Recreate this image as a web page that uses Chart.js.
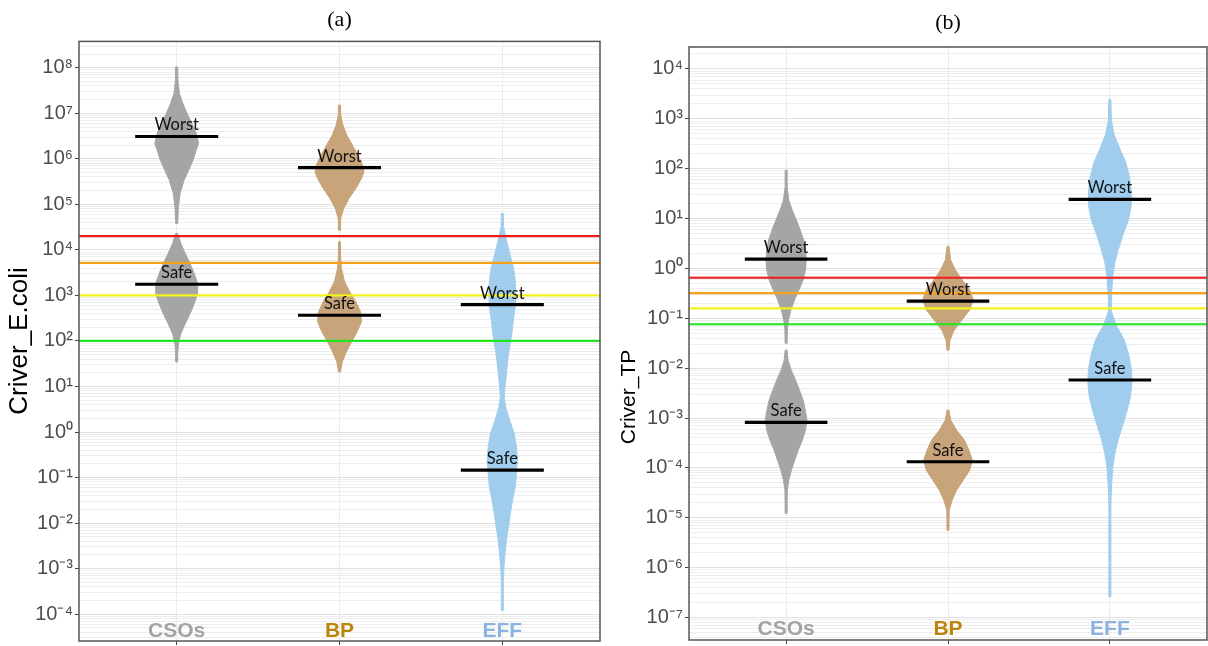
<!DOCTYPE html>
<html>
<head>
<meta charset="utf-8">
<script src="https://cdn.jsdelivr.net/npm/chart.js@4.4.1/dist/chart.umd.min.js"></script>
<style>
  body { margin: 0; background: #fff; }
  #wrap { position: relative; width: 1208px; height: 646px; }
  #chartA { position: absolute; left: 0; top: 0; }
  #chartB { position: absolute; left: 604px; top: 0; }
</style>
</head>
<body>
<div id="wrap">
  <canvas id="chartA" width="604" height="646"></canvas>
  <canvas id="chartB" width="604" height="646"></canvas>
</div>
<script>
const categories = ['CSOs', 'BP', 'EFF'];
const categoryColors = ['#a3a3a3', '#b8860b', '#8cb2e0'];
const swarmColors = ['#a5a5a5', '#c8a47a', '#a0cdee'];
const limitColors = ['#ee1c1c', '#f5a11c', '#f2f21e', '#22e522'];

// swarm outlines: [log10(value), relative density]
const ecoliCsoWorst = [[8.02,.01],[7.73,.05],[7.44,.11],[7.22,.25],[7.0,.42],[6.78,.62],[6.56,.80],[6.34,.90],[6.19,.80],[5.97,.67],[5.75,.49],[5.53,.30],[5.24,.14],[4.95,.07],[4.58,.03]];
const ecoliCsoSafe = [[4.36,.03],[4.14,.17],[3.92,.35],[3.70,.55],[3.48,.72],[3.26,.86],[3.04,.86],[2.82,.72],[2.60,.55],[2.38,.35],[2.16,.17],[1.94,.07],[1.72,.03],[1.54,.01]];
const ecoliBpWorst = [[7.18,.01],[6.96,.05],[6.74,.14],[6.52,.30],[6.30,.53],[6.08,.76],[5.86,.95],[5.71,1.0],[5.57,.90],[5.35,.67],[5.13,.39],[4.91,.17],[4.69,.05],[4.43,.03]];
const ecoliBpSafe = [[4.18,.01],[3.88,.04],[3.59,.08],[3.30,.21],[3.08,.42],[2.86,.67],[2.64,.86],[2.42,.90],[2.20,.72],[1.98,.49],[1.76,.28],[1.54,.11],[1.32,.04]];
const ecoliEffWorst = [[4.80,.01],[4.51,.05],[4.21,.17],[3.92,.30],[3.63,.45],[3.33,.53],[3.04,.55],[2.75,.53],[2.45,.45],[2.16,.39],[1.87,.30],[1.58,.22],[1.28,.17],[0.99,.11],[0.77,.08]];
const ecoliEffSafe = [[0.77,.08],[0.55,.14],[0.26,.30],[-0.04,.49],[-0.33,.58],[-0.62,.62],[-0.91,.58],[-1.21,.53],[-1.50,.42],[-1.79,.33],[-2.09,.25],[-2.38,.17],[-2.67,.11],[-2.97,.07],[-3.26,.04],[-3.55,.03],[-3.92,.01]];
const ecoliMedWorst = [3.1e6, 6.4e5, 630];
const ecoliMedSafe = [1760, 367, 0.146];
const ecoliLimits = [20000, 5200, 1000, 100];
const ecoliExponents = [-4, -3, -2, -1, 0, 1, 2, 3, 4, 5, 6, 7, 8];

const tpCsoWorst = [[1.97,.01],[1.64,.04],[1.37,.11],[1.17,.25],[0.97,.42],[0.77,.58],[0.57,.72],[0.37,.80],[0.17,.83],[-0.03,.80],[-0.23,.70],[-0.43,.53],[-0.63,.35],[-0.83,.20],[-1.03,.10],[-1.23,.05],[-1.50,.02]];
const tpCsoSafe = [[-1.64,.01],[-1.84,.08],[-2.04,.21],[-2.24,.39],[-2.44,.55],[-2.64,.70],[-2.84,.79],[-3.04,.86],[-3.24,.80],[-3.44,.67],[-3.64,.50],[-3.84,.36],[-4.04,.22],[-4.24,.11],[-4.45,.05],[-4.71,.03],[-4.91,.01]];
const tpBpWorst = [[0.44,.01],[0.17,.11],[-0.03,.30],[-0.23,.58],[-0.43,.90],[-0.63,1.04],[-0.83,.90],[-1.03,.58],[-1.24,.25],[-1.44,.08],[-1.64,.03]];
const tpBpSafe = [[-2.84,.01],[-3.04,.11],[-3.24,.35],[-3.44,.67],[-3.64,.86],[-3.84,1.0],[-4.04,.90],[-4.24,.63],[-4.45,.35],[-4.65,.17],[-4.85,.05],[-5.11,.02],[-5.25,.01]];
const tpEffWorst = [[3.39,.01],[2.97,.06],[2.68,.18],[2.40,.41],[2.12,.66],[1.83,.81],[1.55,.88],[1.26,.88],[0.98,.77],[0.70,.56],[0.41,.37],[0.13,.21],[-0.16,.12],[-0.44,.08],[-0.65,.06]];
const tpEffSafe = [[-0.65,.06],[-0.86,.06],[-1.15,.27],[-1.43,.59],[-1.72,.77],[-2.00,.88],[-2.28,.91],[-2.57,.85],[-2.85,.71],[-3.14,.53],[-3.42,.35],[-3.70,.21],[-3.99,.12],[-4.27,.08],[-4.56,.05],[-4.84,.03],[-5.55,.02],[-6.58,.01]];
const tpMedWorst = [1.54, 0.222, 24.3];
const tpMedSafe = [8.2e-4, 1.33e-4, 5.8e-3];
const tpLimits = [0.65, 0.32, 0.158, 0.076];
const tpExponents = [-7, -6, -5, -4, -3, -2, -1, 0, 1, 2, 3, 4];

const SUP = { '-': '\u207B', '0': '\u2070', '1': '\u00B9', '2': '\u00B2', '3': '\u00B3', '4': '\u2074', '5': '\u2075', '6': '\u2076', '7': '\u2077', '8': '\u2078', '9': '\u2079' };
const toSup = n => String(n).split('').map(c => SUP[c]).join('');
const isDecade = v => Math.abs(Math.log10(v) - Math.round(Math.log10(v))) < 1e-6;
const HALF_MAX = 0.15;   // widest swarm half width, in category units
const SEG_HALF = 0.255;  // median bar half length

function logTicks(exps, min, max) {
  const out = [];
  for (let e = exps[0] - 1; e <= exps[exps.length - 1]; e++) {
    for (let m = 1; m <= 9; m++) {
      const v = Number((m * Math.pow(10, e)).toPrecision(6));
      if (v >= min && v <= max) out.push({ value: v });
    }
  }
  return out;
}

function panelPlugin(p) {
  return {
    id: 'panel' + p.tag,
    beforeDatasetsDraw(chart) {
      const { ctx, chartArea: a, scales: { x, y } } = chart;
      ctx.save();
      ctx.beginPath();
      ctx.rect(a.left, a.top, a.right - a.left, a.bottom - a.top);
      ctx.clip();
      p.swarms.forEach(s => {
        const cx = x.getPixelForValue(s.cat);
        const pts = s.profile.map(([lv, d]) => [
          y.getPixelForValue(Math.pow(10, lv)),
          Math.max(x.getPixelForValue(s.cat + d * HALF_MAX) - cx, 1)
        ]);
        ctx.fillStyle = swarmColors[s.cat - 1];
        ctx.strokeStyle = swarmColors[s.cat - 1];
        ctx.lineWidth = 1;
        ctx.beginPath();
        pts.forEach(([py, w], i) => i ? ctx.lineTo(cx + w, py) : ctx.moveTo(cx + w, py));
        for (let i = pts.length - 1; i >= 0; i--) ctx.lineTo(cx - pts[i][1], pts[i][0]);
        ctx.closePath();
        ctx.fill();
        ctx.stroke();
      });
      ctx.restore();
    },
    afterDatasetsDraw(chart) {
      const { ctx, chartArea: a, scales: { x, y } } = chart;
      ctx.save();
      // Worst / Safe labels
      ctx.font = '16.5px Lato, "Open Sans", sans-serif';
      ctx.fillStyle = '#111';
      ctx.textAlign = 'center';
      ctx.textBaseline = 'alphabetic';
      p.medWorst.forEach((m, i) => ctx.fillText('Worst', x.getPixelForValue(i + 1), y.getPixelForValue(m) - 6));
      p.medSafe.forEach((m, i) => ctx.fillText('Safe', x.getPixelForValue(i + 1), y.getPixelForValue(m) - 6));
      // panel border
      ctx.strokeStyle = '#555';
      ctx.lineWidth = 1.5;
      ctx.strokeRect(a.left, a.top, a.right - a.left, a.bottom - a.top);
      // y axis title
      ctx.translate(p.yTitle.x, p.yTitle.y);
      ctx.rotate(-Math.PI / 2);
      ctx.font = p.yTitle.size + 'px "Liberation Sans", Arial, sans-serif';
      ctx.fillStyle = '#000';
      ctx.textBaseline = 'middle';
      ctx.fillText(p.yTitle.text, 0, 0);
      ctx.restore();
    }
  };
}

function makePanel(canvasId, p) {
  const datasets = [];
  const seg = (i, m) => ({
    data: [{ x: i + 1 - SEG_HALF, y: m }, { x: i + 1 + SEG_HALF, y: m }],
    borderColor: '#000', borderWidth: 3.2
  });
  p.medWorst.forEach((m, i) => datasets.push(seg(i, m)));
  p.medSafe.forEach((m, i) => datasets.push(seg(i, m)));
  p.limits.forEach((v, i) => datasets.push({
    data: [{ x: 0.4, y: v }, { x: 3.6, y: v }],
    borderColor: limitColors[i], borderWidth: 2.2
  }));
  datasets.forEach(d => Object.assign(d, { showLine: true, pointRadius: 0, fill: false }));

  new Chart(document.getElementById(canvasId), {
    type: 'scatter',
    data: { datasets },
    plugins: [panelPlugin(p)],
    options: {
      responsive: false,
      animation: false,
      events: [],
      layout: { padding: { left: 0, right: p.padRight, top: 0, bottom: 0 } },
      plugins: {
        legend: { display: false },
        tooltip: { enabled: false },
        title: {
          display: true, text: p.title, fullSize: false, color: '#000',
          font: { family: '"Liberation Serif", "Times New Roman", serif', size: 22, weight: 'normal' },
          padding: p.titlePad
        }
      },
      scales: {
        x: {
          type: 'linear', min: 0.4, max: 3.6,
          afterBuildTicks: s => { s.ticks = [1, 2, 3].map(v => ({ value: v })); },
          afterFit: s => { s.height = p.xHeight; s.paddingLeft = 0; s.paddingRight = 0; },
          border: { display: false },
          grid: { color: '#ebebeb', tickColor: '#444', tickLength: 4 },
          ticks: {
            callback: v => categories[v - 1],
            color: c => categoryColors[c.index],
            font: { family: '"Liberation Sans Narrow", "Arial Narrow", "Liberation Sans", sans-serif', size: 21, weight: 'bold' },
            mirror: true, padding: p.catPad, autoSkip: false, maxRotation: 0
          }
        },
        y: {
          type: 'logarithmic', min: p.yMin, max: p.yMax,
          afterBuildTicks: s => { s.ticks = logTicks(p.exps, p.yMin, p.yMax); },
          afterFit: s => { s.width = p.yWidth; s.paddingTop = 0; s.paddingBottom = 0; },
          border: { display: false },
          grid: {
            color: c => (c.tick && isDecade(c.tick.value)) ? '#e0e0e0' : '#ededed',
            tickColor: c => (c.tick && isDecade(c.tick.value)) ? '#444' : 'rgba(0,0,0,0)',
            tickLength: 4
          },
          ticks: {
            callback: v => isDecade(v) ? '10' + toSup(Math.round(Math.log10(v))) : '',
            color: '#4d4d4d',
            font: { family: '"Liberation Sans", Arial, sans-serif', size: 20 },
            padding: 2, autoSkip: false
          }
        }
      }
    }
  });
}

makePanel('chartA', {
  tag: 'A', title: '(a)', titlePad: { top: 7, bottom: 8 },
  yMin: Math.pow(10, -4.59), yMax: Math.pow(10, 8.58), exps: ecoliExponents,
  yWidth: 79, xHeight: 5, padRight: 4, catPad: -3,
  yTitle: { text: 'Criver_E.coli', x: 20, y: 341, size: 26 },
  medWorst: ecoliMedWorst, medSafe: ecoliMedSafe, limits: ecoliLimits,
  swarms: [
    { cat: 1, profile: ecoliCsoWorst }, { cat: 1, profile: ecoliCsoSafe },
    { cat: 2, profile: ecoliBpWorst }, { cat: 2, profile: ecoliBpSafe },
    { cat: 3, profile: ecoliEffWorst }, { cat: 3, profile: ecoliEffSafe }
  ]
});

makePanel('chartB', {
  tag: 'B', title: '(b)', titlePad: { top: 10, bottom: 10.6 },
  yMin: Math.pow(10, -7.45), yMax: Math.pow(10, 4.44), exps: tpExponents,
  yWidth: 85, xHeight: 6, padRight: 1, catPad: -2,
  yTitle: { text: 'Criver_TP', x: 25, y: 397, size: 21 },
  medWorst: tpMedWorst, medSafe: tpMedSafe, limits: tpLimits,
  swarms: [
    { cat: 1, profile: tpCsoWorst }, { cat: 1, profile: tpCsoSafe },
    { cat: 2, profile: tpBpWorst }, { cat: 2, profile: tpBpSafe },
    { cat: 3, profile: tpEffWorst }, { cat: 3, profile: tpEffSafe }
  ]
});
</script>
</body>
</html>
